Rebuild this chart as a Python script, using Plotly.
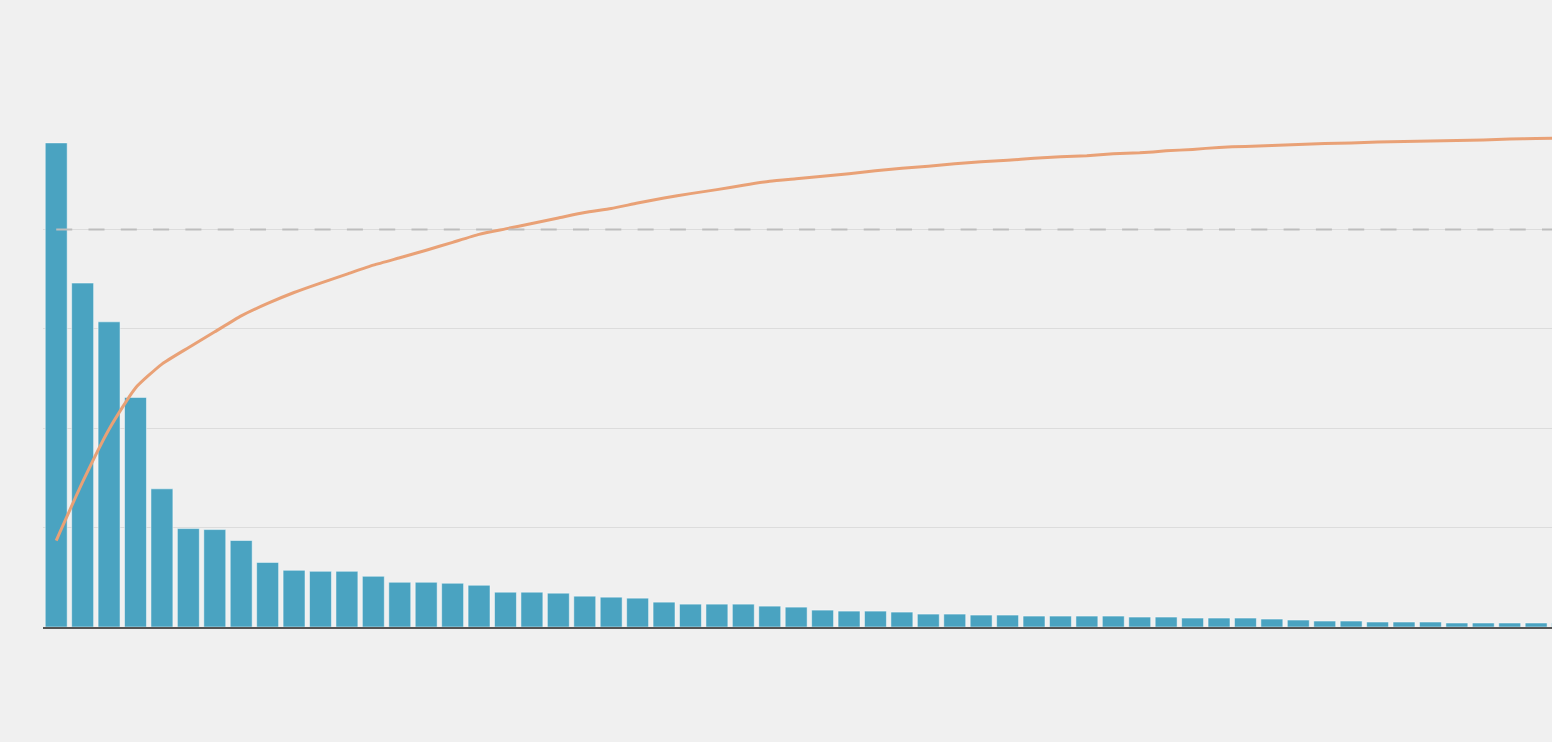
import plotly.graph_objects as go

# Bar values (left axis, 0-500 scale), one per category, sorted descending
categories = list(range(58))
counts = [487, 346, 307, 231, 139, 99, 98, 87, 65, 57,
          56, 56, 51, 45, 45, 44, 42, 35, 35, 34,
          31, 30, 29, 25, 23, 23, 23, 21, 20, 17,
          16, 16, 15, 13, 13, 12, 12, 11, 11, 11,
          11, 10, 10, 9, 9, 9, 8, 7, 6, 6,
          5, 5, 5, 4, 4, 4, 4, 4]

# Cumulative percentage line (right axis, 0-100)
cum_pct = [17.4, 29.2, 39.8, 48.1, 52.9, 56.2, 59.4, 62.6, 65.1, 67.3,
           69.2, 71.0, 72.8, 74.3, 75.8, 77.4, 79.0, 80.1, 81.2, 82.3,
           83.4, 84.2, 85.3, 86.3, 87.2, 88.0, 88.9, 89.7, 90.2, 90.7,
           91.2, 91.8, 92.3, 92.7, 93.2, 93.6, 93.9, 94.3, 94.6, 94.8,
           95.2, 95.4, 95.8, 96.1, 96.5, 96.7, 96.9, 97.1, 97.3, 97.4,
           97.6, 97.7, 97.8, 97.9, 98.0, 98.2, 98.3, 98.4]

threshold = 80

BG = "#f0f0f0"
BAR = "#4aa3c1"
LINE = "#e9a176"

fig = go.Figure()
fig.add_trace(go.Bar(
    x=categories, y=counts,
    marker=dict(color=BAR, line=dict(color="rgba(255,255,255,0.6)", width=0.8)),
    hoverinfo="skip", showlegend=False,
))
fig.add_trace(go.Scatter(
    x=categories, y=cum_pct, yaxis="y2", mode="lines",
    line=dict(color=LINE, width=3, shape="spline", smoothing=0.5),
    hoverinfo="skip", showlegend=False,
))

fig.add_shape(type="line", xref="x", yref="y2",
              x0=0, x1=len(categories) + 2, y0=threshold, y1=threshold,
              line=dict(color="#bdbdbd", width=2, dash="16px,16.3px"),
              layer="above")

fig.update_layout(
    width=1552, height=742,
    margin=dict(l=43, r=0, t=130, b=115, pad=0),
    paper_bgcolor=BG, plot_bgcolor=BG,
    bargap=0.17,
    xaxis=dict(range=[-0.5, 56.6], showticklabels=False, showgrid=False,
               zeroline=False, showline=True, linecolor="#555555", linewidth=2,
               ticks=""),
    yaxis=dict(range=[0, 500], dtick=100, showticklabels=False, showgrid=True,
               gridcolor="#dcdcdc", gridwidth=1, zeroline=False, ticks=""),
    yaxis2=dict(range=[0, 100], overlaying="y", side="right", showgrid=False,
                showticklabels=False, zeroline=False, ticks=""),
)

fig.write_html(
    "out.html",
    config={"displayModeBar": False},
    post_script="document.body.style.margin='0';document.body.style.padding='0';"
                "document.body.style.overflow='hidden';"
                "document.body.style.background='#f0f0f0';",
)
